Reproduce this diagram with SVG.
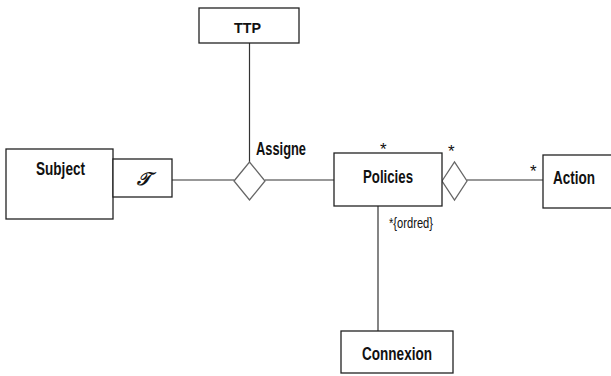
<svg xmlns="http://www.w3.org/2000/svg" width="611" height="376" viewBox="0 0 611 376">
<style>
.box{fill:#fff;stroke:#222;stroke-width:1.3}
.lbl{font-family:"Liberation Sans",Arial,sans-serif;font-weight:bold;fill:#111}
.ln{stroke:#333;stroke-width:1.2;fill:none}
.dia{fill:#fff;stroke:#666;stroke-width:1.3}
.mult{font-family:"Liberation Sans",Arial,sans-serif;fill:#111}
</style>
<rect width="611" height="376" fill="#fff"/>
<g id="connectors">
<line class="ln" x1="172" y1="180" x2="234" y2="180"/>
<line class="ln" x1="249.5" y1="43" x2="249.5" y2="162"/>
<line class="ln" x1="265" y1="180" x2="334" y2="180"/>
<line class="ln" x1="467" y1="180" x2="543" y2="180"/>
<line class="ln" x1="378" y1="206" x2="378" y2="331"/>
<polygon class="dia" points="234,181 249.5,162 265,181 249.5,200"/>
<polygon class="dia" points="442,181 454.5,162 467,181 454.5,200"/>
<text class="lbl" x="256" y="155" font-size="18" textLength="50" lengthAdjust="spacingAndGlyphs">Assigne</text>
<text class="mult" x="380" y="155" font-size="17">*</text>
<text class="mult" x="448" y="157" font-size="17">*</text>
<text class="mult" x="530" y="177" font-size="17">*</text>
<text class="mult" x="389" y="228" font-size="15" textLength="44" lengthAdjust="spacingAndGlyphs">*{ordred}</text>
</g>
<g id="subject">
<rect class="box" x="6" y="149" width="107" height="70"/>
<text class="lbl" x="36" y="175" font-size="19" textLength="49" lengthAdjust="spacingAndGlyphs">Subject</text>
</g>
<g id="qualifier">
<rect class="box" x="113" y="159" width="59" height="38"/>
<text x="137" y="185" font-family="'Liberation Serif',serif" font-style="italic" font-weight="bold" font-size="18" fill="#111">𝒯</text>
</g>
<g id="ttp">
<rect class="box" x="199" y="8" width="100" height="35"/>
<text class="lbl" x="234" y="33" font-size="15" textLength="27" lengthAdjust="spacingAndGlyphs">TTP</text>
</g>
<g id="policies">
<rect class="box" x="334" y="153" width="108" height="53"/>
<text class="lbl" x="363" y="183" font-size="19" textLength="50" lengthAdjust="spacingAndGlyphs">Policies</text>
</g>
<g id="action">
<rect class="box" x="543" y="155" width="72" height="53"/>
<text class="lbl" x="553" y="184" font-size="19" textLength="42" lengthAdjust="spacingAndGlyphs">Action</text>
</g>
<g id="connexion">
<rect class="box" x="341" y="331" width="112" height="42"/>
<text class="lbl" x="362" y="360" font-size="19" textLength="70" lengthAdjust="spacingAndGlyphs">Connexion</text>
</g>
</svg>
